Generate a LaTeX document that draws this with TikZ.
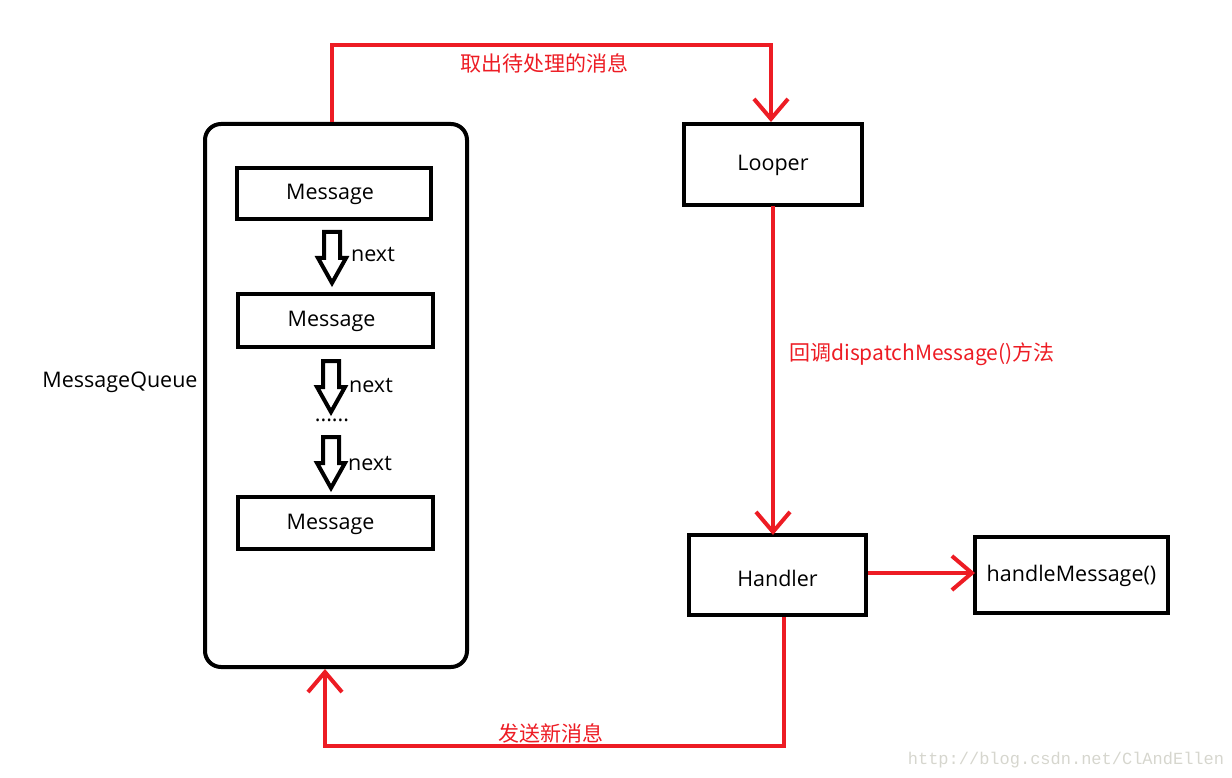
\documentclass[tikz,border=0pt]{standalone}
\usepackage{fontspec}
\setmainfont{Open Sans}
\newfontfamily\cjk{Noto Sans CJK SC}
\newfontfamily\wm{Liberation Mono}
\usetikzlibrary{arrows.meta}
\definecolor{pred}{HTML}{ED1C24}
\definecolor{wmgray}{HTML}{D6D6CE}
\begin{document}
\begin{tikzpicture}[x=1pt,y=-1pt,
  box/.style={draw=black,line width=4pt,inner sep=0pt},
  lbl/.style={font=\fontsize{21.5}{24}\selectfont},
  rlbl/.style={font=\cjk\fontsize{21}{24}\selectfont,text=pred},
  rline/.style={draw=pred,line width=4pt},
  rarrow/.style={rline,-{Straight Barb[length=20pt,width=34pt,line width=4pt]}},
  hollow/.style={draw=black,line width=4pt,line join=miter,fill=white}]
\useasboundingbox (0,0) rectangle (1232,778);
% MessageQueue container
\draw[box,rounded corners=16pt] (205,124) rectangle (467,667);
\node[box,minimum width=194pt,minimum height=51pt] (m1) at (334,193.5) {};
\node[lbl] at (330,194) {Message};
\node[box,minimum width=195pt,minimum height=53pt] (m2) at (335.5,320.5) {};
\node[lbl] at (331.5,321) {Message};
\node[box,minimum width=195pt,minimum height=52pt] (m3) at (335.5,523) {};
\node[lbl] at (330.5,524) {Message};
\node[lbl,anchor=center] (mq) at (120,382) {MessageQueue};
% hollow arrows
\foreach \cx/\t [count=\i] in {332/232, 331/361, 331/437}{
  \draw[hollow] (\cx-8,\t) -- (\cx+8,\t) -- (\cx+8,\t+26) -- (\cx+14,\t+26) -- (\cx,\t+51) -- (\cx-14,\t+26) -- (\cx-8,\t+26) -- cycle;
}
\node[lbl] (n1) at (373,255) {next};
\node[lbl] (n2) at (371,386) {next};
\node[lbl] (n3) at (370,464) {next};
\node[lbl] (dots) at (332,420) {......};
% right boxes
\node[box,minimum width=178pt,minimum height=81pt] (looper) at (773,164.5) {};
\node[lbl] at (773,165) {Looper};
\node[box,minimum width=177pt,minimum height=80pt] (handler) at (777.5,575) {};
\node[lbl] at (777.5,578) {Handler};
\node[box,minimum width=193pt,minimum height=76pt] (hm) at (1071.5,575) {};
\node[lbl] at (1071.5,576) {handleMessage()};
% red connectors
\coordinate (c1) at (332,45);
\coordinate (c2) at (771,45);
\draw[rarrow] (332,122) -- (c1) -- (c2) -- (771,122);
\node[rlbl] (t1) at (544,63) {取出待处理的消息};
\draw[rarrow] (773,206) -- (773,535);
\node[rlbl] (t2) at (922,354) {回调dispatchMessage()方法};
\draw[rarrow] (868,573) -- (975,573);
\coordinate (c3) at (784,746);
\coordinate (c4) at (325,746);
\draw[rarrow] (784,617) -- (c3) -- (c4) -- (325,669);
\node[rlbl] (t3) at (551,733) {发送新消息};
% watermark
\node[font=\wm\fontsize{17}{20}\selectfont,text=wmgray] (w) at (1066,760) {http://blog.csdn.net/ClAndEllen};
\end{tikzpicture}
\end{document}
